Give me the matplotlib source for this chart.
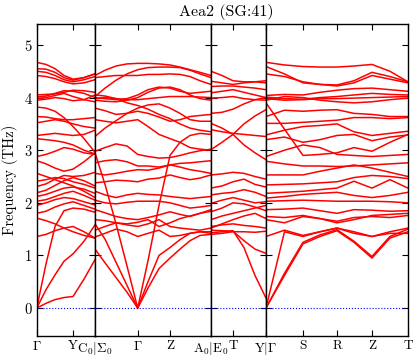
import numpy as np
import matplotlib
matplotlib.use("Agg")
import matplotlib.pyplot as plt

plt.rcParams['font.family'] = 'serif'
plt.rcParams['font.serif'] = ['cmr10', 'DejaVu Serif']
plt.rcParams['mathtext.fontset'] = 'cm'
plt.rcParams['axes.unicode_minus'] = False
plt.rcParams['axes.formatter.use_mathtext'] = True

title = 'Aea2 (SG:41)'
ylabel = 'Frequency (THz)'

# panel 1: Gamma - Y - C0
p1_x = [0, 9.3, 18.3, 27.3, 36.3, 47.3, 58.3]
p1_ticks = [0, 36.3, 58.3]
p1_labels = [r'$\Gamma$', 'Y', r'$\mathrm{C}_0|\Sigma_0$']
p1_bands = [
    [0, 0.09, 0.16, 0.20, 0.22, 0.55, 0.92],
    [0, 0.35, 0.63, 0.89, 1.03, 1.27, 1.58],
    [0, 0.84, 1.55, 1.85, 1.90, 1.88, 1.82],
    [1.36, 1.40, 1.47, 1.52, 1.55, 1.45, 1.33],
    [1.71, 1.66, 1.60, 1.52, 1.45, 1.38, 1.33],
    [1.80, 1.84, 1.92, 1.98, 2.02, 1.95, 1.88],
    [1.95, 2.00, 2.06, 2.10, 2.08, 2.02, 1.96],
    [2.03, 2.06, 2.12, 2.18, 2.22, 2.14, 2.05],
    [2.12, 2.16, 2.22, 2.28, 2.30, 2.26, 2.18],
    [2.19, 2.24, 2.33, 2.42, 2.48, 2.42, 2.32],
    [2.31, 2.36, 2.45, 2.52, 2.50, 2.52, 2.58],
    [2.41, 2.44, 2.48, 2.46, 2.40, 2.35, 2.28],
    [2.56, 2.50, 2.44, 2.38, 2.32, 2.22, 2.10],
    [2.80, 2.74, 2.66, 2.60, 2.64, 2.78, 2.95],
    [2.88, 2.92, 2.98, 3.05, 3.02, 2.95, 2.92],
    [3.22, 3.20, 3.18, 3.15, 3.10, 3.00, 2.93],
    [3.28, 3.30, 3.32, 3.30, 3.28, 3.30, 3.38],
    [3.52, 3.55, 3.58, 3.55, 3.50, 3.45, 3.42],
    [3.64, 3.63, 3.60, 3.58, 3.58, 3.60, 3.62],
    [3.82, 3.80, 3.74, 3.62, 3.45, 3.22, 2.96],
    [3.95, 3.97, 4.00, 3.98, 3.94, 3.96, 4.05],
    [3.98, 4.00, 4.04, 4.08, 4.02, 3.96, 3.92],
    [4.01, 4.03, 4.08, 4.13, 4.12, 4.08, 4.00],
    [4.05, 4.06, 4.07, 4.10, 4.14, 4.13, 4.10],
    [4.42, 4.40, 4.36, 4.30, 4.26, 4.28, 4.34],
    [4.50, 4.48, 4.42, 4.34, 4.30, 4.34, 4.40],
    [4.55, 4.54, 4.48, 4.38, 4.33, 4.38, 4.45],
    [4.67, 4.63, 4.55, 4.42, 4.35, 4.38, 4.45],
]

# panel 2: Sigma0 - Gamma - Z - A0
p2_x = [0, 10, 21, 32, 42.7, 53, 64, 75, 85, 95, 105, 116]
p2_ticks = [0, 42.7, 75, 116]
p2_labels = ['', r'$\Gamma$', 'Z', r'$\mathrm{A}_0|\mathrm{E}_0$']
p2_bands = [
    [1.12, 0.86, 0.58, 0.30, 0, 0.38, 0.75, 0.95, 1.12, 1.28, 1.38, 1.40],
    [1.60, 1.31, 0.87, 0.43, 0, 0.50, 1.00, 1.15, 1.30, 1.42, 1.45, 1.45],
    [2.95, 2.35, 1.60, 0.80, 0, 0.90, 1.95, 2.90, 3.15, 3.28, 3.32, 3.30],
    [1.35, 1.42, 1.50, 1.45, 1.36, 1.42, 1.48, 1.36, 1.38, 1.42, 1.45, 1.42],
    [1.48, 1.55, 1.62, 1.58, 1.55, 1.60, 1.68, 1.55, 1.52, 1.50, 1.48, 1.52],
    [1.87, 1.81, 1.74, 1.70, 1.68, 1.72, 1.77, 1.83, 1.78, 1.74, 1.80, 1.87],
    [1.68, 1.66, 1.62, 1.60, 1.63, 1.68, 1.55, 1.62, 1.70, 1.75, 1.80, 1.84],
    [2.05, 2.0, 1.98, 2.01, 2.03, 2.03, 2.03, 2.0, 1.95, 1.90, 1.92, 1.95],
    [2.22, 2.15, 2.10, 2.15, 2.18, 2.16, 2.15, 2.12, 2.10, 2.08, 2.10, 2.12],
    [2.38, 2.40, 2.43, 2.42, 2.40, 2.45, 2.47, 2.53, 2.48, 2.44, 2.47, 2.53],
    [2.56, 2.53, 2.56, 2.60, 2.63, 2.62, 2.66, 2.72, 2.68, 2.63, 2.60, 2.56],
    [2.76, 2.80, 2.82, 2.78, 2.70, 2.70, 2.68, 2.72, 2.75, 2.76, 2.78, 2.80],
    [2.98, 3.05, 3.12, 3.08, 2.92, 2.88, 2.85, 2.86, 2.90, 2.95, 2.99, 3.02],
    [3.26, 3.42, 3.56, 3.70, 3.80, 3.86, 3.88, 3.80, 3.70, 3.58, 3.55, 3.55],
    [3.58, 3.55, 3.52, 3.55, 3.58, 3.45, 3.30, 3.22, 3.15, 3.05, 3.02, 3.00],
    [3.80, 3.75, 3.68, 3.70, 3.74, 3.70, 3.63, 3.55, 3.58, 3.64, 3.66, 3.68],
    [3.95, 3.93, 3.92, 3.95, 4.00, 4.10, 4.18, 4.20, 4.15, 4.05, 3.98, 3.95],
    [4.00, 3.98, 3.96, 3.98, 4.05, 4.15, 4.20, 4.18, 4.12, 4.08, 4.10, 4.12],
    [3.98, 4.00, 3.98, 3.96, 3.96, 3.98, 4.00, 4.02, 4.02, 4.02, 4.01, 4.00],
    [4.05, 4.03, 3.98, 3.90, 3.85, 3.78, 3.68, 3.60, 3.50, 3.42, 3.38, 3.35],
    [4.02, 4.18, 4.33, 4.45, 4.53, 4.57, 4.58, 4.58, 4.57, 4.52, 4.45, 4.38],
    [4.38, 4.40, 4.42, 4.42, 4.42, 4.44, 4.44, 4.45, 4.44, 4.40, 4.32, 4.25],
    [4.42, 4.52, 4.60, 4.64, 4.65, 4.65, 4.64, 4.62, 4.58, 4.53, 4.48, 4.42],
]

# panel 3: E0 - T - Y
p3_x = [0, 11, 22, 33, 44, 55]
p3_ticks = [0, 22, 55]
p3_labels = ['', 'T', r'$\mathrm{Y}|\Gamma$']
p3_bands = [
    [1.43, 1.45, 1.47, 1.15, 0.62, 0.19],
    [1.48, 1.47, 1.46, 1.28, 1.12, 1.04],
    [1.40, 1.42, 1.45, 1.45, 1.44, 1.46],
    [1.55, 1.58, 1.60, 1.57, 1.55, 1.52],
    [1.52, 1.60, 1.68, 1.75, 1.80, 1.70],
    [1.68, 1.75, 1.80, 1.85, 1.90, 1.95],
    [1.83, 1.90, 2.00, 1.98, 1.92, 1.85],
    [1.99, 2.05, 2.10, 2.05, 2.00, 2.02],
    [2.15, 2.18, 2.20, 2.25, 2.20, 2.12],
    [2.28, 2.32, 2.40, 2.45, 2.35, 2.30],
    [2.53, 2.55, 2.58, 2.56, 2.50, 2.45],
    [3.01, 3.15, 3.30, 3.50, 3.65, 3.77],
    [3.39, 3.35, 3.32, 3.30, 3.28, 3.26],
    [3.51, 3.42, 3.30, 3.10, 2.95, 2.82],
    [3.70, 3.72, 3.78, 3.88, 3.96, 4.00],
    [3.99, 4.00, 4.02, 3.98, 3.96, 3.95],
    [4.09, 4.12, 4.15, 4.10, 4.05, 4.00],
    [4.21, 4.22, 4.22, 4.20, 4.18, 4.15],
    [4.31, 4.28, 4.25, 4.28, 4.30, 4.32],
    [4.50, 4.42, 4.32, 4.30, 4.30, 4.28],
]

# panel 4: Gamma - S - R - Z - T
p4_x = [0, 18.5, 37, 54, 71, 88, 106, 124, 142]
p4_ticks = [0, 37, 71, 106, 142]
p4_labels = ['', 'S', 'R', 'Z', 'T']
p4_bands = [
    [0, 0.66, 1.25, 1.39, 1.49, 1.27, 0.98, 1.36, 1.50],
    [0, 0.62, 1.22, 1.36, 1.47, 1.25, 0.95, 1.33, 1.45],
    [0, 1.45, 1.36, 1.45, 1.52, 1.42, 1.36, 1.42, 1.42],
    [1.36, 1.48, 1.38, 1.45, 1.52, 1.45, 1.36, 1.45, 1.52],
    [1.68, 1.62, 1.74, 1.70, 1.65, 1.72, 1.74, 1.72, 1.76],
    [1.74, 1.72, 1.76, 1.70, 1.62, 1.68, 1.76, 1.78, 1.80],
    [1.87, 1.88, 1.90, 1.85, 1.80, 1.87, 1.86, 1.84, 1.85],
    [2.03, 2.04, 2.05, 2.04, 2.03, 2.03, 2.03, 2.02, 2.00],
    [2.09, 2.12, 2.16, 2.18, 2.20, 2.14, 2.10, 2.14, 2.20],
    [2.18, 2.20, 2.22, 2.25, 2.28, 2.41, 2.28, 2.44, 2.28],
    [2.34, 2.35, 2.36, 2.38, 2.40, 2.48, 2.52, 2.50, 2.46],
    [2.53, 2.53, 2.53, 2.60, 2.66, 2.72, 2.66, 2.58, 2.50],
    [2.79, 2.74, 2.70, 2.70, 2.69, 2.70, 2.72, 2.74, 2.76],
    [2.88, 3.00, 3.10, 3.05, 2.92, 2.90, 2.88, 2.90, 2.92],
    [3.90, 3.40, 2.90, 2.92, 2.95, 3.05, 2.98, 3.15, 3.30],
    [3.20, 3.25, 3.15, 3.20, 3.28, 3.30, 3.18, 3.25, 3.29],
    [3.29, 3.38, 3.45, 3.47, 3.50, 3.35, 3.28, 3.32, 3.36],
    [3.51, 3.51, 3.53, 3.55, 3.57, 3.62, 3.62, 3.60, 3.62],
    [3.64, 3.76, 3.74, 3.76, 3.77, 3.70, 3.68, 3.64, 3.64],
    [3.95, 4.02, 4.00, 3.95, 3.92, 3.90, 3.92, 3.96, 3.99],
    [3.98, 3.95, 3.96, 3.98, 3.98, 3.99, 4.00, 4.01, 4.02],
    [4.01, 3.98, 3.97, 4.00, 4.02, 4.05, 4.08, 4.06, 4.05],
    [4.04, 4.06, 4.05, 4.10, 4.14, 4.17, 4.18, 4.15, 4.12],
    [4.45, 4.40, 4.30, 4.25, 4.22, 4.28, 4.42, 4.35, 4.28],
    [4.59, 4.45, 4.28, 4.25, 4.24, 4.32, 4.48, 4.40, 4.30],
    [4.67, 4.62, 4.59, 4.58, 4.58, 4.60, 4.63, 4.50, 4.30],
]

panels = [
    (p1_x, p1_bands, p1_ticks, p1_labels),
    (p2_x, p2_bands, p2_ticks, p2_labels),
    (p3_x, p3_bands, p3_ticks, p3_labels),
    (p4_x, p4_bands, p4_ticks, p4_labels),
]

fig = plt.figure(figsize=(4.15, 3.57), dpi=100)
gs = fig.add_gridspec(1, 4, width_ratios=[p[0][-1] for p in panels],
                      left=0.0885, right=0.983, top=0.933, bottom=0.059, wspace=0)

for i, (xs, bands, ticks, labels) in enumerate(panels):
    ax = fig.add_subplot(gs[0, i])
    for b in bands:
        ax.plot(xs, b, color='red', lw=1.1)
    ax.axhline(0, color='blue', ls=':', lw=0.8)
    ax.set_xlim(xs[0], xs[-1])
    ax.set_ylim(-0.53, 5.4)
    ax.set_xticks(ticks)
    ax.set_xticklabels(labels, fontsize=9.5)
    ax.set_yticks([0, 1, 2, 3, 4, 5])
    ax.tick_params(direction='in', top=True, right=True, length=4, width=0.8,
                   labelsize=10.5, pad=3)
    ax.tick_params(axis='x', labelsize=9.5)
    for s in ax.spines.values():
        s.set_linewidth(1.0)
    if i == 0:
        ax.set_ylabel(ylabel, fontsize=10.5)
    else:
        ax.set_yticklabels([])

fig.text(226 / 415, 1 - 12 / 357, title, fontsize=11.5, ha='center', va='center')

fig.savefig('out.png', dpi=100)
